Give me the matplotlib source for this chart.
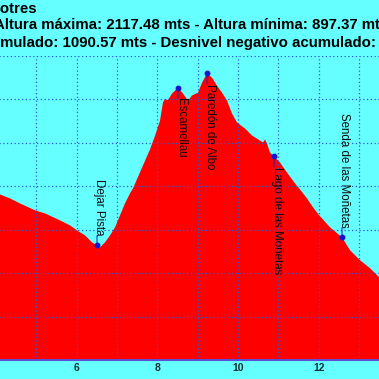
import matplotlib.pyplot as plt
from matplotlib.ticker import MultipleLocator

# Tramo visible del perfil (km, metros)
distancia_km = [4.098, 4.346, 4.594, 4.966, 5.214, 5.586, 5.834, 6.007, 6.206, 6.379,
                6.503, 6.578, 6.702, 6.826, 6.950, 7.073, 7.197, 7.321, 7.396, 7.569,
                7.817, 7.940, 8.065, 8.140, 8.189, 8.264, 8.363, 8.512, 8.636, 8.760,
                8.859, 9.008, 9.107, 9.231, 9.355, 9.479, 9.603, 9.727, 9.851, 9.975,
                10.173, 10.347, 10.545, 10.619, 10.669, 10.718, 10.793, 10.892, 11.041, 11.214,
                11.413, 11.537, 11.710, 11.859, 12.033, 12.281, 12.578, 12.776, 13.024, 13.272,
                13.496]
altura_m = [1561, 1543, 1520, 1488, 1474, 1442, 1419, 1396, 1373, 1341,
            1327, 1318, 1341, 1373, 1410, 1465, 1520, 1566, 1589, 1663,
            1768, 1830, 1900, 1985, 2000, 1995, 2025, 2052, 2025, 1993,
            2016, 2029, 2075, 2117.48, 2098, 2061, 2029, 1993, 1933, 1892,
            1864, 1832, 1809, 1800, 1814, 1795, 1754, 1736, 1708, 1662,
            1612, 1584, 1543, 1502, 1461, 1410, 1364, 1305, 1259, 1222,
            1181]

# Puntos de paso
puntos_nombre = ["Dejar Pista", "Escamellau", "Paredón de Albo",
                 "Lago de las Moñetas", "Senda de las Moñetas"]
puntos_km = [6.503, 8.512, 9.231, 10.892, 12.578]
puntos_altura = [1327, 2052, 2117.48, 1736, 1364]
puntos_arriba = [True, False, False, False, True]

ticks_y = [800, 1000, 1200, 1400, 1600, 1800, 2000, 2200]

titulo_1 = "Cotres"
titulo_2 = "Altura máxima: 2117.48 mts - Altura mínima: 897.37 mts"
titulo_3 = "Desnivel positivo acumulado: 1090.57 mts - Desnivel negativo acumulado:"

FONDO = '#66ffff'
W = 379.0

def px(x):
    return x / W

def py(y):
    return 1 - y / W

fig = plt.figure(figsize=(3.79, 3.79), dpi=100, facecolor=FONDO)
plt.rcParams['font.family'] = ['Liberation Sans', 'DejaVu Sans']

# El grafico original es mas grande: solo se ve una ventana
escala = 40.33
x_ini = 4.098
ax = fig.add_axes([px(-10), py(360), px(399), px(360 - 55.5)])
ax.set_facecolor(FONDO)
ax.set_xlim(x_ini - 10 / escala, x_ini + 389 / escala)
ax.set_ylim(800, 2200)

ax.fill_between(distancia_km, altura_m, 800, color='#ff0000', linewidth=0, zorder=1)

ax.xaxis.set_major_locator(MultipleLocator(2))
ax.xaxis.set_minor_locator(MultipleLocator(1))
ax.set_yticks(ticks_y)
ax.grid(which='both', color='#2a5ad8', linestyle=(0, (1, 2)), linewidth=0.9, zorder=2.5)
ax.tick_params(axis='y', left=False, labelleft=False)
ax.tick_params(axis='x', which='both', length=0, pad=2, labelsize=7.5,
               labelcolor='#0a3030')
for lab in ax.get_xticklabels():
    lab.set_fontweight('bold')
for lado in ['left', 'right', 'top']:
    ax.spines[lado].set_visible(False)
ax.spines['bottom'].set_color('#5a4fd0')
ax.spines['bottom'].set_linewidth(1.5)

ax.plot(puntos_km, puntos_altura, 'o', color='#1414d2', markersize=3.2, zorder=5)
for nombre, xk, yk, arriba in zip(puntos_nombre, puntos_km, puntos_altura, puntos_arriba):
    if arriba:
        hueco, va = 7, 'bottom'
    else:
        hueco, va = -7.5, 'top'
    # linea corta entre el punto y la etiqueta
    ax.annotate('', (xk, yk), xytext=(0, hueco), textcoords='offset points',
                arrowprops=dict(arrowstyle='-', color='#2020b0', lw=0.7,
                                shrinkA=0, shrinkB=0), zorder=4)
    ax.annotate(nombre, (xk, yk), xytext=(1.8, hueco), textcoords='offset points',
                rotation=270, ha='center', va=va, fontsize=8.3, color='#0a0a0a')

fig.text(px(37), py(13.3), titulo_1, ha='right', va='baseline', fontsize=10.8,
         fontweight='bold')
fig.text(px(-6), py(29.3), titulo_2, ha='left', va='baseline', fontsize=10.8,
         fontweight='bold')
fig.text(px(376), py(47), titulo_3, ha='right', va='baseline', fontsize=10.8,
         fontweight='bold')

fig.savefig('out.png', dpi=100, facecolor=FONDO)
